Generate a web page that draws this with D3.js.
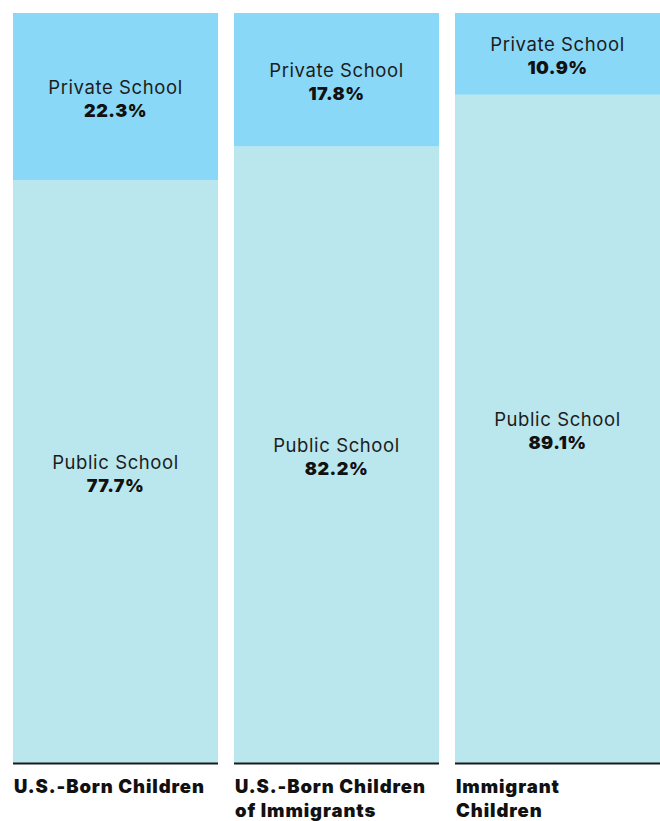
<!DOCTYPE html>
<html>
<head>
<meta charset="utf-8">
<script src="https://cdn.jsdelivr.net/npm/d3@7"></script>
<style>
  html, body { margin: 0; padding: 0; background: #fff; }
  svg { display: block; }
  .seg-name { font-family: Inter, "Noto Sans", sans-serif; font-size: 18.5px; font-weight: 400; fill: #1c1c1c; letter-spacing: 0.6px; }
  .seg-value { font-family: Inter, "Noto Sans", sans-serif; font-size: 18px; font-weight: 900; fill: #111; letter-spacing: 0.5px; }
  .cat-label { font-family: Inter, "Noto Sans", sans-serif; font-size: 18.5px; font-weight: 900; fill: #111; letter-spacing: 0.9px; }
</style>
</head>
<body>
<svg id="chart" width="660" height="821"></svg>
<script>
// Share of children in public vs private school, by nativity group
const groups = ["U.S.-Born Children", "U.S.-Born Children of Immigrants", "Immigrant Children"];
const groupLines = [["U.S.-Born Children"], ["U.S.-Born Children", "of Immigrants"], ["Immigrant", "Children"]];
const publicShare = [77.7, 82.2, 89.1];
const privateShare = [22.3, 17.8, 10.9];
const segmentNames = ["Public School", "Private School"];

const plotTop = 13, plotBottom = 763;
const svg = d3.select("#chart");

const x = d3.scaleBand().domain(groups).range([13, 660]).paddingInner(16 / 221).paddingOuter(0);
const y = d3.scaleLinear().domain([0, 100]).range([plotBottom, plotTop]);
const color = d3.scaleOrdinal().domain(segmentNames).range(["#bae6ed", "#89d8f7"]);

const rows = groups.map((g, i) => ({ group: g, "Public School": publicShare[i], "Private School": privateShare[i] }));
const stack = d3.stack().keys(segmentNames)(rows);

const layer = svg.selectAll("g.layer").data(stack).join("g")
  .attr("class", "layer")
  .attr("fill", d => color(d.key));

layer.selectAll("rect").data(d => d).join("rect")
  .attr("x", d => x(d.data.group))
  .attr("width", x.bandwidth())
  .attr("y", d => y(d[1]))
  .attr("height", d => y(d[0]) - y(d[1]));

// Segment labels: name on first line, bold value on second
stack.forEach(s => {
  s.forEach(d => {
    const cx = x(d.data.group) + x.bandwidth() / 2;
    const mid = (y(d[0]) + y(d[1])) / 2;
    svg.append("text").attr("class", "seg-name")
      .attr("x", cx).attr("y", mid - 3).attr("text-anchor", "middle")
      .text(s.key);
    svg.append("text").attr("class", "seg-value")
      .attr("x", cx).attr("y", mid + 20).attr("text-anchor", "middle")
      .text(d3.format(".1f")(d[1] - d[0]) + "%");
  });
});

// Baseline rule under each bar
svg.selectAll("line.base").data(groups).join("line")
  .attr("class", "base")
  .attr("x1", d => x(d)).attr("x2", d => x(d) + x.bandwidth())
  .attr("y1", y(0) + 0.5).attr("y2", y(0) + 0.5)
  .attr("stroke", "#1a1a1a").attr("stroke-width", 2);

// Category labels below the bars
groups.forEach((g, i) => {
  const t = svg.append("text").attr("class", "cat-label")
    .attr("x", x(g) + 1).attr("y", plotBottom + 30);
  groupLines[i].forEach((line, j) => {
    t.append("tspan").attr("x", x(g) + 1).attr("dy", j === 0 ? 0 : 24).text(line);
  });
});
</script>
</body>
</html>
